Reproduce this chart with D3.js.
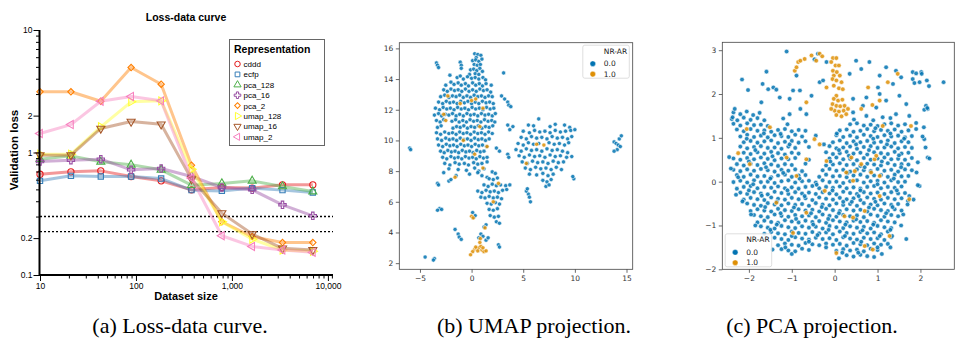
<!DOCTYPE html>
<html>
<head>
<meta charset="utf-8">
<script src="https://cdn.jsdelivr.net/npm/d3@7"></script>
<style>
  body { margin: 0; background: #fff; }
  svg { display: block; }
</style>
</head>
<body>
<svg id="fig" width="956" height="346"></svg>
<script>
// ---------------- data: (a) loss-data curve ----------------
const datasetSizes = [10, 21, 43, 89, 183, 379, 785, 1625, 3364, 6963];
const cddd     = [0.665, 0.695, 0.708, 0.637, 0.587, 0.496, 0.518, 0.512, 0.545, 0.545];
const ecfp     = [0.587, 0.645, 0.637, 0.637, 0.613, 0.493, 0.486, 0.512, 0.493, 0.472];
const pca_128  = [0.882, 0.939, 0.839, 0.793, 0.722, 0.541, 0.559, 0.587, 0.528, 0.480];
const pca_16   = [0.845, 0.866, 0.882, 0.722, 0.740, 0.637, 0.518, 0.496, 0.374, 0.304];
const pca_2    = [3.13, 3.13, 2.62, 4.94, 3.61, 0.788, 0.272, 0.206, 0.184, 0.184];
const umap_128 = [0.969, 0.969, 1.62, 2.59, 2.64, 0.731, 0.272, 0.196, 0.160, 0.156];
const umap_16  = [0.951, 0.951, 1.57, 1.79, 1.70, 0.606, 0.320, 0.216, 0.165, 0.160];
const umap_2   = [1.43, 1.69, 2.62, 2.87, 2.64, 0.62, 0.209, 0.171, 0.160, 0.153];
const refLines = [0.30, 0.226];
const yTickValues = [0.1, 0.2, 0.3, 0.4, 0.5, 0.6, 0.7, 0.8, 0.9, 1, 2, 3, 4, 5, 6, 7, 8, 9, 10];
const yTickLabels = [0.1, 0.2, 1, 2, 10];
const xTickValues = [10, 20, 30, 40, 50, 60, 70, 80, 90, 100, 200, 300, 400, 500, 600, 700, 800, 900,
                     1000, 2000, 3000, 4000, 5000, 6000, 7000, 8000, 9000, 10000, 11000];
const xTickLabels = [10, 100, 1000, 10000];

// ---------------- data: (b) UMAP projection ----------------
const umapBlue = [
  [0.3,15.65],[0.6,15.6],[0.9,15.55],[0.45,15.4],[0.1,15.2],[0.4,15.25],[0.7,15.15],[1.0,15.3],[0.25,14.95],[0.55,14.9],[0.85,14.95],
  [-0.1,14.6],[0.2,14.65],[0.5,14.55],[0.8,14.7],[1.05,14.5],[0.35,14.35],[0.7,14.3],[-0.2,14.3],
  [-3.4,15.05],[-3.3,14.9],[-3.2,14.75],[-1.1,15.1],[-1.0,14.9],[-1.0,14.7],[3.1,14.4],
  [-2.1,14.25],[-1.4,14.1],[-1.1,14.2],[-0.8,14.0],[-0.4,14.15],[0.0,14.05],[0.35,14.1],[0.7,14.0],[1.1,14.1],[1.35,13.95],
  [-2.5,13.6],[-2.0,13.8],[-1.7,13.65],[-1.3,13.75],[-1.0,13.6],[-0.6,13.7],[-0.3,13.55],[0.1,13.75],[0.4,13.6],[0.75,13.7],[1.05,13.55],[1.4,13.7],[1.9,13.6],
  [-2.7,13.3],[-2.35,13.2],[-2.0,13.35],[-1.65,13.25],[-1.3,13.3],[-0.95,13.2],[-0.6,13.35],[-0.25,13.2],[0.1,13.3],[0.45,13.2],[0.8,13.35],[1.15,13.25],[1.5,13.3],[1.85,13.15],
  [-3.0,12.85],[-2.6,12.95],[-2.2,12.8],[-1.85,12.9],[-1.5,12.85],[-1.15,12.95],[-0.8,12.8],[-0.45,12.9],[-0.1,12.8],[0.25,12.95],[0.6,12.85],[0.95,12.9],[1.3,12.8],[1.65,12.9],[2.0,12.85],
  [-3.2,12.5],[-2.8,12.4],[-2.45,12.55],[-2.1,12.45],[-1.75,12.5],[-1.4,12.4],[-1.05,12.55],[-0.7,12.45],[-0.35,12.55],[0.0,12.4],[0.35,12.5],[0.7,12.4],[1.05,12.55],[1.4,12.45],[1.75,12.5],[2.1,12.4],
  [-3.5,12.1],[-3.1,12.0],[-2.75,12.15],[-2.4,12.05],[-2.05,12.1],[-1.7,12.0],[-1.35,12.15],[-1.0,12.05],[-0.65,12.1],[-0.3,12.0],[0.05,12.15],[0.4,12.05],[0.75,12.1],[1.1,12.0],[1.45,12.15],[1.8,12.05],[2.15,12.1],
  [-3.6,11.65],[-3.2,11.75],[-2.9,11.6],[-2.55,11.7],[-2.2,11.65],[-1.85,11.75],[-1.5,11.6],[-1.15,11.7],[-0.8,11.6],[-0.45,11.75],[-0.1,11.65],[0.25,11.7],[0.6,11.6],[0.95,11.75],[1.3,11.65],[1.65,11.7],[2.0,11.6],[2.3,11.75],
  [-3.4,11.3],[-3.05,11.2],[-2.7,11.35],[-1.9,11.25],[-1.55,11.35],[-1.2,11.2],[-0.85,11.3],[-0.5,11.2],[-0.15,11.35],[0.2,11.25],[0.55,11.3],[0.9,11.2],[1.25,11.35],[1.6,11.25],[1.95,11.3],[2.25,11.2],
  [-3.3,10.85],[-2.95,10.95],[-1.8,10.8],[-1.45,10.9],[-1.1,10.85],[-0.75,10.95],[-0.4,10.8],[-0.05,10.9],[0.3,10.85],[0.65,10.95],[1.0,10.8],[1.35,10.9],[1.7,10.85],[2.05,10.95],
  [-3.4,10.5],[-3.0,10.4],[-2.6,10.55],[-2.2,10.45],[-1.85,10.5],[-1.5,10.4],[-1.15,10.55],[-0.8,10.45],[-0.45,10.5],[-0.1,10.4],[0.25,10.55],[0.6,10.45],[0.95,10.5],[1.3,10.4],[1.65,10.55],[2.0,10.45],
  [-3.3,10.1],[-2.9,10.0],[-2.5,10.15],[-2.15,10.05],[-1.8,10.1],[-1.45,10.0],[-1.1,10.15],[-0.75,10.05],[-0.4,10.1],[-0.05,10.0],[0.3,10.15],[0.65,10.05],[1.0,10.1],[1.35,10.0],[1.7,10.1],
  [-3.2,9.7],[-2.8,9.6],[-2.45,9.75],[-2.1,9.65],[-1.75,9.7],[-1.4,9.6],[-1.05,9.75],[-0.7,9.65],[-0.35,9.7],[0.0,9.6],[0.35,9.75],[0.7,9.65],[1.05,9.7],[1.45,9.6],
  [-3.0,9.3],[-2.65,9.2],[-2.3,9.35],[-1.95,9.25],[-1.6,9.3],[-1.25,9.2],[-0.9,9.35],[-0.55,9.25],[-0.2,9.3],[0.15,9.2],[0.5,9.35],[0.85,9.25],[1.2,9.3],
  [-2.8,8.9],[-2.4,8.8],[-2.0,8.95],[-1.65,8.85],[-1.3,8.9],[-0.95,8.8],[-0.6,8.95],[-0.25,8.85],[0.1,8.9],[0.45,8.8],[0.8,8.95],[1.15,8.85],[1.5,8.9],
  [-2.6,8.5],[-2.1,8.4],[-1.6,8.55],[-1.2,8.45],[-0.7,8.5],[-0.3,8.4],[0.2,8.55],[0.6,8.45],[1.0,8.5],[1.5,8.6],
  [-2.2,8.15],[-1.3,8.1],[-0.5,8.05],[0.3,8.2],[0.7,8.0],[1.2,8.15],
  [-2.7,7.9],[-2.2,7.35],[-2.0,7.45],[-1.5,7.7],[-0.2,7.8],[0.6,7.9],[1.0,7.7],[1.5,7.6],
  [2.9,12.9],[3.2,12.7],[3.5,12.5],[3.6,12.3],[3.8,12.2],
  [3.5,11.0],[3.7,10.7],[4.0,10.9],[2.4,9.5],[2.7,9.3],[3.5,9.1],[3.6,8.9],
  [5.5,11.0],[6.0,10.95],[7.6,10.9],[8.1,11.05],[9.0,11.0],[9.5,10.85],[6.5,11.4],
  [5.0,10.6],[5.6,10.5],[6.1,10.65],[6.6,10.55],[7.1,10.6],[7.6,10.5],[8.1,10.65],[8.6,10.55],[9.1,10.6],[9.6,10.65],[10.0,10.7],
  [4.8,10.2],[5.3,10.1],[5.8,10.25],[6.3,10.15],[6.8,10.2],[7.3,10.1],[7.8,10.25],[8.3,10.15],[8.8,10.2],[9.3,10.1],[9.7,10.25],
  [4.5,9.8],[5.0,9.7],[5.5,9.85],[6.0,9.75],[6.5,9.8],[7.5,9.85],[8.0,9.75],[8.5,9.8],[9.0,9.7],[9.4,9.85],
  [4.3,9.4],[4.8,9.3],[5.3,9.45],[5.8,9.35],[6.3,9.4],[6.8,9.3],[7.3,9.45],[7.8,9.35],[8.3,9.4],[8.8,9.3],[9.3,9.2],
  [4.6,9.0],[5.1,8.9],[5.6,9.05],[6.1,8.95],[6.6,9.0],[7.1,8.9],[7.6,9.05],[8.1,8.95],[8.6,9.0],[9.2,8.9],[9.7,8.95],
  [4.9,8.6],[5.4,8.5],[5.9,8.65],[6.4,8.55],[6.9,8.6],[7.4,8.5],[7.9,8.65],[8.4,8.55],[8.9,8.6],
  [5.2,8.2],[5.7,8.1],[6.2,8.25],[6.7,8.15],[7.2,8.2],[7.7,8.1],[8.2,8.25],[8.7,8.1],
  [5.6,7.8],[6.3,7.75],[6.9,7.85],[7.4,7.7],[7.9,7.8],[6.9,7.4],[7.3,7.3],[7.7,7.45],[7.2,7.0],[7.5,7.1],
  [9.9,7.5],[9.8,7.65],[5.5,6.5],[5.6,6.3],[5.7,6.0],[5.3,6.7],[5.4,6.85],
  [13.8,9.9],[14.0,9.8],[14.2,9.7],[14.3,10.1],[14.5,10.3],[14.1,9.4],[13.8,9.3],[14.4,9.6],
  [-6.0,9.5],[-5.9,9.4],[-3.3,7.2],[-3.2,7.1],[-3.1,5.55],[-3.3,5.45],[-2.9,5.5],
  [-1.6,4.2],[-1.3,3.9],[-1.2,3.7],[-1.0,3.55],[-4.5,2.4],[-3.6,2.3],[-3.7,2.2],[2.6,3.2],[2.7,3.05],
  [2.0,7.95],[2.3,7.85],[1.7,7.5],[2.1,7.45],[2.5,7.55],
  [1.2,7.1],[1.6,7.0],[2.0,7.15],[2.4,7.05],[2.8,7.1],[3.3,7.05],[3.7,7.1],
  [0.6,6.7],[1.0,6.6],[1.4,6.75],[1.8,6.65],[2.2,6.7],[2.6,6.6],[3.0,6.75],[3.4,6.8],
  [0.9,6.3],[1.3,6.25],[1.7,6.35],[2.1,6.25],[2.5,6.3],[2.9,6.2],
  [1.5,5.9],[1.9,5.85],[2.3,5.95],[2.7,5.85],[1.7,5.5],[2.1,5.45],[2.5,5.55],
  [1.8,5.1],[2.2,5.0],[2.6,5.05],[2.4,4.7],[2.7,4.6],[1.4,4.5],[1.2,4.35],
  [0.9,3.9],[1.1,3.75],[1.4,3.5],[1.6,3.65],[0.7,3.65],[0.1,5.3],[0.2,5.0],[0.35,5.1]
];
const umapOrange = [
  [0.3,2.9],[0.5,2.95],[0.7,3.0],[0.9,3.1],[1.0,2.85],[1.2,2.75],[1.4,2.8],[0.8,3.35],[0.85,3.6],[0.1,2.75],
  [-0.1,2.55],[0.6,2.8],[1.1,3.0],[0.4,3.05],[0.0,5.05],[0.15,4.95],
  [-2.3,12.9],[-2.7,11.7],[-2.5,11.3],[-1.1,12.4],[0.0,12.6],[0.4,12.7],[1.1,12.1],[0.8,10.9],[-0.8,10.0],
  [1.5,9.6],[0.3,9.1],[1.1,8.2],[-1.6,7.6],[7.0,9.7],[6.3,9.75],[5.3,8.5],[2.6,7.2],[2.1,6.0],[1.3,4.3]
];
const umapXTicks = [-5, 0, 5, 10, 15];
const umapYTicks = [2, 4, 6, 8, 10, 12, 14, 16];

// ---------------- data: (c) PCA projection ----------------
const pcaBlue = [
  [-2.36,1.58],[-2.2,1.54],[-2.05,1.6],[-1.9,1.52],[-1.75,1.57],
  [-2.4,1.43],[-2.27,1.4],[-2.12,1.46],[-1.96,1.41],[-1.8,1.45],[-1.64,1.4],[-1.2,1.44],[0.45,1.42],[0.9,1.4],[1.3,1.45],
  [-2.36,1.32],[-2.2,1.28],[-2.04,1.33],[-1.88,1.29],[-1.72,1.3],[-1.56,1.27],[-1.1,1.31],[0.36,1.31],[0.52,1.33],[0.68,1.28],[0.84,1.3],[1.0,1.27],[1.16,1.31],[1.32,1.33],[1.48,1.28],[1.64,1.31],
  [-2.28,1.19],[-2.12,1.15],[-1.96,1.2],[-1.8,1.16],[-1.64,1.17],[-1.48,1.14],[-1.32,1.18],[-1.16,1.2],[-1.0,1.15],[-0.84,1.18],[-0.68,1.16],[0.12,1.17],[0.28,1.19],[0.44,1.14],[0.6,1.16],[0.76,1.2],[0.92,1.15],[1.08,1.18],[1.24,1.16],[1.4,1.19],[1.56,1.14],[1.72,1.17],
  [-2.2,1.03],[-2.04,1.07],[-1.88,1.02],[-1.72,1.05],[-1.56,1.01],[-1.4,1.06],[-1.24,1.04],[-1.08,1.02],[-0.92,1.07],[-0.76,1.03],[-0.44,1.05],[0.04,1.06],[0.2,1.02],[0.36,1.05],[0.52,1.01],[0.68,1.07],[0.84,1.04],[1.0,1.02],[1.16,1.06],[1.32,1.03],[1.48,1.05],[1.64,1.01],[1.8,1.04],
  [-2.12,0.9],[-1.96,0.93],[-1.8,0.89],[-1.64,0.92],[-1.48,0.94],[-1.32,0.88],[-1.16,0.91],[-1.0,0.93],[-0.84,0.89],[-0.68,0.92],[-0.04,0.9],[0.12,0.94],[0.28,0.88],[0.44,0.92],[0.6,0.9],[0.76,0.93],[0.92,0.89],[1.08,0.91],[1.24,0.94],[1.4,0.88],[1.56,0.92],[1.72,0.9],
  [-2.2,0.8],[-2.04,0.76],[-1.88,0.79],[-1.72,0.81],[-1.56,0.77],[-1.4,0.78],[-1.24,0.75],[-1.08,0.8],[-0.92,0.77],[-0.6,0.79],[-0.12,0.81],[0.04,0.76],[0.2,0.78],[0.36,0.8],[0.52,0.75],[0.68,0.79],[0.84,0.81],[1.0,0.77],[1.16,0.78],[1.32,0.8],[1.48,0.76],[1.64,0.79],[1.8,0.77],
  [-2.12,0.66],[-1.96,0.63],[-1.8,0.67],[-1.64,0.64],[-1.48,0.68],[-1.32,0.65],[-1.16,0.62],[-1.0,0.66],[-0.84,0.64],[-0.2,0.67],[-0.04,0.63],[0.12,0.65],[0.28,0.68],[0.44,0.64],[0.6,0.66],[0.76,0.62],[0.92,0.67],[1.08,0.65],[1.24,0.63],[1.4,0.68],[1.56,0.64],[1.72,0.66],
  [-2.36,0.53],[-2.2,0.5],[-2.04,0.54],[-1.88,0.51],[-1.72,0.55],[-1.56,0.52],[-1.4,0.49],[-1.24,0.53],[-1.08,0.51],[-0.92,0.54],[-0.6,0.5],[-0.12,0.53],[0.04,0.55],[0.2,0.51],[0.36,0.52],[0.52,0.49],[0.68,0.54],[0.84,0.5],[1.0,0.53],[1.16,0.55],[1.32,0.51],[1.48,0.52],[1.64,0.5],[1.8,0.54],
  [-2.28,0.4],[-2.12,0.37],[-1.96,0.41],[-1.8,0.38],[-1.64,0.42],[-1.48,0.39],[-1.32,0.36],[-1.16,0.4],[-1.0,0.38],[-0.68,0.41],[-0.2,0.37],[-0.04,0.39],[0.12,0.42],[0.28,0.38],[0.44,0.4],[0.6,0.36],[0.76,0.41],[0.92,0.39],[1.08,0.37],[1.24,0.42],[1.4,0.38],[1.56,0.4],[1.72,0.39],
  [-2.36,0.27],[-2.2,0.24],[-2.04,0.28],[-1.88,0.25],[-1.72,0.29],[-1.56,0.26],[-1.4,0.23],[-1.24,0.27],[-1.08,0.25],[-0.92,0.28],[-0.76,0.24],[-0.28,0.26],[-0.12,0.29],[0.04,0.25],[0.2,0.27],[0.36,0.23],[0.52,0.28],[0.68,0.26],[0.84,0.24],[1.0,0.29],[1.16,0.25],[1.32,0.27],[1.48,0.23],[1.64,0.28],[1.8,0.26],
  [-2.28,0.15],[-2.12,0.11],[-1.96,0.16],[-1.8,0.12],[-1.64,0.13],[-1.48,0.1],[-1.32,0.14],[-1.16,0.16],[-1.0,0.11],[-0.84,0.14],[-0.68,0.15],[-0.36,0.11],[-0.2,0.16],[-0.04,0.12],[0.12,0.13],[0.28,0.1],[0.44,0.14],[0.6,0.16],[0.76,0.11],[0.92,0.14],[1.08,0.15],[1.24,0.11],[1.4,0.16],[1.56,0.12],[1.72,0.13],
  [-2.36,-0.01],[-2.2,0.02],[-2.04,-0.02],[-1.88,0.03],[-1.72,-0.01],[-1.56,0.0],[-1.4,-0.03],[-1.24,0.01],[-1.08,0.03],[-0.92,-0.02],[-0.76,0.01],[-0.6,0.02],[-0.44,-0.02],[-0.28,0.03],[-0.12,-0.01],[0.04,0.0],[0.2,-0.03],[0.36,0.01],[0.52,0.03],[0.68,-0.02],[0.84,0.01],[1.0,0.02],[1.16,-0.02],[1.32,0.03],[1.48,-0.01],[1.64,0.0],
  [-2.28,-0.16],[-2.12,-0.12],[-1.96,-0.1],[-1.8,-0.15],[-1.64,-0.12],[-1.48,-0.14],[-1.32,-0.11],[-1.16,-0.15],[-1.0,-0.13],[-0.84,-0.16],[-0.68,-0.12],[-0.52,-0.1],[-0.36,-0.15],[-0.2,-0.12],[-0.04,-0.14],[0.12,-0.11],[0.28,-0.15],[0.44,-0.13],[0.6,-0.16],[0.76,-0.12],[0.92,-0.1],[1.08,-0.15],[1.24,-0.12],[1.4,-0.14],[1.56,-0.11],
  [-2.2,-0.25],[-2.04,-0.28],[-1.88,-0.24],[-1.72,-0.27],[-1.56,-0.29],[-1.4,-0.23],[-1.24,-0.26],[-1.08,-0.28],[-0.92,-0.24],[-0.76,-0.27],[-0.6,-0.25],[-0.44,-0.28],[-0.28,-0.24],[-0.12,-0.27],[0.04,-0.29],[0.2,-0.23],[0.36,-0.26],[0.52,-0.28],[0.68,-0.24],[0.84,-0.27],[1.0,-0.25],[1.16,-0.28],[1.32,-0.24],[1.48,-0.27],[1.64,-0.26],
  [-2.12,-0.41],[-1.96,-0.37],[-1.8,-0.4],[-1.64,-0.42],[-1.48,-0.36],[-1.32,-0.39],[-1.16,-0.41],[-1.0,-0.37],[-0.84,-0.4],[-0.68,-0.38],[-0.52,-0.42],[-0.36,-0.36],[-0.2,-0.39],[-0.04,-0.41],[0.12,-0.37],[0.28,-0.4],[0.44,-0.38],[0.6,-0.42],[0.76,-0.36],[0.92,-0.39],[1.08,-0.41],[1.24,-0.37],[1.4,-0.4],[1.56,-0.38],
  [-2.04,-0.5],[-1.88,-0.53],[-1.72,-0.55],[-1.56,-0.49],[-1.4,-0.52],[-1.24,-0.54],[-1.08,-0.5],[-0.92,-0.53],[-0.76,-0.51],[-0.6,-0.55],[-0.44,-0.49],[-0.28,-0.52],[-0.12,-0.54],[0.04,-0.5],[0.2,-0.53],[0.36,-0.51],[0.52,-0.55],[0.68,-0.49],[0.84,-0.52],[1.0,-0.54],[1.16,-0.5],[1.32,-0.53],[1.48,-0.51],
  [-1.96,-0.67],[-1.8,-0.63],[-1.64,-0.66],[-1.48,-0.68],[-1.32,-0.62],[-1.16,-0.65],[-1.0,-0.67],[-0.84,-0.63],[-0.68,-0.66],[-0.52,-0.64],[-0.36,-0.68],[-0.2,-0.62],[-0.04,-0.65],[0.12,-0.67],[0.28,-0.63],[0.44,-0.66],[0.6,-0.64],[0.76,-0.68],[0.92,-0.62],[1.08,-0.65],[1.24,-0.67],[1.4,-0.63],[1.56,-0.66],
  [-1.88,-0.76],[-1.72,-0.79],[-1.56,-0.81],[-1.4,-0.75],[-1.24,-0.78],[-1.08,-0.8],[-0.92,-0.76],[-0.76,-0.79],[-0.6,-0.77],[-0.44,-0.81],[-0.28,-0.75],[-0.12,-0.78],[0.04,-0.8],[0.2,-0.76],[0.36,-0.79],[0.52,-0.77],[0.68,-0.81],[0.84,-0.75],[1.0,-0.78],[1.16,-0.8],[1.32,-0.76],[1.48,-0.79],
  [-1.8,-0.93],[-1.64,-0.89],[-1.48,-0.92],[-1.32,-0.94],[-1.16,-0.88],[-1.0,-0.91],[-0.84,-0.93],[-0.68,-0.89],[-0.52,-0.92],[-0.36,-0.9],[-0.2,-0.94],[-0.04,-0.88],[0.12,-0.91],[0.28,-0.93],[0.44,-0.89],[0.6,-0.92],[0.76,-0.9],[0.92,-0.94],[1.08,-0.88],[1.24,-0.91],[1.4,-0.93],
  [-1.72,-1.02],[-1.56,-1.05],[-1.4,-1.07],[-1.24,-1.01],[-1.08,-1.04],[-0.92,-1.06],[-0.76,-1.02],[-0.6,-1.05],[-0.44,-1.03],[-0.28,-1.07],[-0.12,-1.01],[0.04,-1.04],[0.2,-1.06],[0.36,-1.02],[0.52,-1.05],[0.68,-1.03],[0.84,-1.07],[1.0,-1.01],[1.16,-1.04],[1.32,-1.06],
  [-1.64,-1.19],[-1.48,-1.15],[-1.32,-1.18],[-1.16,-1.2],[-1.0,-1.14],[-0.84,-1.17],[-0.68,-1.19],[-0.52,-1.15],[-0.36,-1.18],[-0.2,-1.16],[-0.04,-1.2],[0.12,-1.14],[0.28,-1.17],[0.44,-1.19],[0.6,-1.15],[0.76,-1.18],[0.92,-1.16],[1.08,-1.2],[1.24,-1.14],
  [-1.4,-1.28],[-1.24,-1.31],[-1.08,-1.33],[-0.92,-1.27],[-0.76,-1.3],[-0.6,-1.32],[-0.44,-1.28],[-0.28,-1.31],[-0.12,-1.29],[0.04,-1.33],[0.2,-1.27],[0.36,-1.3],[0.52,-1.32],[0.68,-1.28],[0.84,-1.31],[1.0,-1.29],[1.16,-1.33],[1.32,-1.27],
  [-1.32,-1.45],[-1.16,-1.41],[-1.0,-1.44],[-0.84,-1.46],[-0.68,-1.4],[-0.52,-1.43],[-0.36,-1.45],[-0.2,-1.41],[-0.04,-1.44],[0.12,-1.42],[0.28,-1.46],[0.44,-1.4],[0.6,-1.43],[0.76,-1.45],[0.92,-1.41],[1.08,-1.44],[1.24,-1.42],
  [-1.24,-1.54],[-1.08,-1.57],[-0.92,-1.59],[-0.76,-1.53],[-0.6,-1.56],[0.04,-1.58],[0.2,-1.54],[0.36,-1.57],[0.52,-1.55],[0.68,-1.59],[0.84,-1.53],[1.0,-1.56],
  [0.28,-1.68],[0.44,-1.71],[0.6,-1.67],[0.76,-1.7],[0.92,-1.72],
  [-1.12,2.97],[-0.39,2.92],[-0.19,2.73],[-0.47,2.79],[0.5,2.76],[0.81,2.73],[1.2,2.61],[1.43,2.53],[1.05,2.42],[1.82,2.5],[2.02,2.5],[2.54,2.27],
  [-1.59,2.51],[-2.16,2.33],[-2.02,2.09],[-1.68,2.23],[-1.55,2.11],[-1.43,2.15],[-1.36,2.1],[-1.71,1.81],[-1.28,1.92],[-1.05,1.89],[-0.97,2.08],
  [-0.81,2.08],[-0.54,1.96],[-0.35,2.27],[-0.27,2.31],[0.35,2.46],[0.62,2.57],[1.01,2.15],[1.36,2.23],[1.55,2.38],[1.82,2.34],[1.98,2.27],[2.15,2.31],
  [2.13,1.73],[2.17,1.66],[1.9,1.2],[2.09,0.97],[2.12,0.78],[2.17,0.55],[2.21,0.53],[1.94,0.44],[1.91,0.21],[1.98,-0.1],[1.74,-0.33],[1.71,-0.44],
  [1.67,-1.31],[1.34,-1.24],[-2.33,1.66],[-2.38,1.47],[-2.46,0.56],[-0.8,1.66],[-0.66,1.54],[-1.05,1.54],[0.43,1.89],[0.74,1.92],[1.05,2.0],
  [0.43,1.58],[0.66,1.73],[0.97,1.69],[1.2,1.85],[1.51,1.96],[1.67,1.77],[1.43,1.54],[1.74,1.5],[0.74,1.5],[1.12,1.47],[-0.89,2.42],
  [1.84,-0.41],[1.7,-0.52],[2.03,2.46],[1.9,2.47],[2.2,2.18],[1.86,2.25],[2.09,1.64],[2.16,1.68],[1.9,1.34],[2.08,1.24],[2.05,1.03],[1.94,-0.08],
  [-2.42,0.3],[-2.3,-0.3],[-2.15,-0.45],[-1.95,-0.75],[-1.85,-1.0],[-1.6,-1.3],[-1.45,-1.55],[-1.0,-1.65],[0.1,-1.75],[1.1,-1.65],[1.3,-1.5],[1.55,-1.0],[1.6,-0.75],
  [-1.9,-0.06],[-1.5,0.07],[-1.1,-0.2],[-0.7,-0.33],[-0.3,-0.58],[0.1,-0.72],[0.5,-0.86],[0.9,-0.98],[1.3,-1.1],[-1.62,-0.58],
  [-1.26,-0.72],[-0.9,-0.85],[-0.5,-0.98],[-0.14,-1.1],[0.24,-1.24],[0.62,-1.37],[1.0,-1.5],[-1.35,-0.98],[-1.0,-1.24],[-0.6,-1.37],
  [-0.2,-1.5],[0.18,-1.62],[0.6,-0.2],[1.0,-0.06],[1.38,0.07],[0.3,0.2],[0.7,0.33],[1.1,0.46],[1.5,0.6],[0.1,0.72],
  [0.5,0.85],[0.9,0.98],[1.3,1.1],[-0.1,0.46],[0.33,0.59],[0.8,0.72],[1.22,0.85],[1.62,0.98],[0.2,-0.46],[0.56,-0.33],
  [0.95,-0.46],[1.35,-0.58],[-0.05,-0.2],[-0.42,-0.07],[-0.82,0.07],[-1.2,0.2],[-1.6,0.33],[-2.0,0.46],[-1.85,0.72],[-1.45,0.58],
  [-1.05,0.85],[-1.65,1.1],[-2.05,0.98],[-1.26,1.09],[-2.25,0.1],[-2.0,-0.2],[-1.7,-0.32],[-1.35,-0.46],[-0.95,-0.59],[-0.55,-0.72],
  [-0.15,-0.85],[0.25,-0.98],[0.65,-1.11],[1.05,-1.24],[1.2,-0.72],[0.8,-0.59],[0.4,-0.46],[1.45,-0.2],[1.55,0.33],[-0.25,0.85],
  [0.05,1.1],[0.95,1.22],[-1.5,-1.1],[-1.15,-1.5],[-0.4,-1.22],[0.55,-1.62]
];
const pcaOrange = [
  [-0.04,2.82],[0.04,2.82],[-0.08,2.73],[0.02,2.65],[0.1,2.65],[-0.04,2.53],[0.05,2.5],[-0.02,2.42],[0.12,2.42],[-0.05,2.34],
  [0.04,2.31],[0.16,2.27],[-0.02,2.19],[0.1,2.13],[0.19,2.11],[0.04,1.96],[-0.02,1.89],[0.08,1.85],[0.18,1.87],[-0.05,1.77],
  [0.04,1.73],[0.13,1.72],[0.23,1.73],[0.0,1.62],[0.1,1.6],[0.21,1.62],[0.04,1.52],[0.16,1.49],[0.27,1.54],[-0.08,1.66],[0.31,1.66],
  [-0.85,2.73],[-0.8,2.76],[-0.7,2.8],[-0.54,2.88],[-0.35,2.92],[-0.29,2.86],[-0.93,2.53],[-0.89,2.61],[-0.43,2.76],
  [0.78,2.15],[1.05,1.85],[1.24,2.27],[1.47,2.46],[-0.66,1.81],[-0.19,2.15],[0.62,1.66],[0.88,1.75],[-0.47,0.97],[-0.35,0.85],
  [-0.66,0.51],[-0.19,0.47],[0.39,0.55],[0.62,0.4],[0.93,0.51],[0.97,0.59],[1.12,1.27],[1.78,1.27],[0.27,0.21],[0.47,0.24],
  [-2.25,0.65],[-1.98,0.4],[-2.05,1.2],[-1.51,1.24],[-1.12,0.55],[-0.89,0.13],[-1.36,-0.48],[-0.66,-0.71],[-0.97,-1.17],[0.23,-0.79],
  [0.43,-0.82],[0.7,-0.67],[1.05,-0.33],[1.28,-1.24],[1.74,-0.4],[0.04,-1.63],[0.7,-1.47],[0.89,-1.55],[-0.23,-0.21],[0.43,0.02],[0.85,0.21],[1.05,0.13]
];
const pcaXTicks = [-2, -1, 0, 1, 2];
const pcaYTicks = [-2, -1, 0, 1, 2, 3];
const hueLabels = ["0.0", "1.0"];
const captions = ["(a) Loss-data curve.", "(b) UMAP projection.", "(c) PCA projection."];

// ---------------- drawing ----------------
const svg = d3.select("#fig");
const sans = "'Liberation Sans', Arial, Helvetica, sans-serif";
const dejavu = "'DejaVu Sans', sans-serif";

const series = [
  {name: "cddd", values: cddd, color: "#e41a1c"},
  {name: "ecfp", values: ecfp, color: "#377eb8"},
  {name: "pca_128", values: pca_128, color: "#4daf4a"},
  {name: "pca_16", values: pca_16, color: "#984ea3"},
  {name: "pca_2", values: pca_2, color: "#ff7f00"},
  {name: "umap_128", values: umap_128, color: "#ffff33"},
  {name: "umap_16", values: umap_16, color: "#a65628"},
  {name: "umap_2", values: umap_2, color: "#f781bf"}
];
const markers = {
  cddd: {type: d3.symbolCircle, rot: 0, size: 30},
  ecfp: {type: d3.symbolSquare, rot: 0, size: 28},
  pca_128: {type: d3.symbolTriangle, rot: 0, size: 28},
  pca_16: {type: d3.symbolCross, rot: 0, size: 30},
  pca_2: {type: d3.symbolSquare, rot: 45, size: 20},
  umap_128: {type: d3.symbolTriangle, rot: 90, size: 28},
  umap_16: {type: d3.symbolTriangle, rot: 180, size: 28},
  umap_2: {type: d3.symbolTriangle, rot: 270, size: 28}
};

// ----- panel (a) -----
const xA = d3.scaleLog().domain([10, 11300]).range([40, 333]);
const yA = d3.scaleLog().domain([0.1, 10]).range([275, 30]);
const gA = svg.append("g");

gA.selectAll("line.ref").data(refLines).enter().append("line")
  .attr("class", "ref")
  .attr("x1", 40).attr("x2", 333)
  .attr("y1", d => yA(d)).attr("y2", d => yA(d))
  .attr("stroke", "#000").attr("stroke-width", 1.4).attr("stroke-dasharray", "2,2");

const line = d3.line().x((d, i) => xA(datasetSizes[i])).y(d => yA(d));

const sg = gA.selectAll("g.series").data(series).enter().append("g").attr("class", "series");
sg.append("path")
  .attr("d", d => line(d.values))
  .attr("fill", "none")
  .attr("stroke", d => d.color)
  .attr("stroke-opacity", 0.45)
  .attr("stroke-width", 3)
  .attr("stroke-linejoin", "round");
sg.each(function(s) {
  const m = markers[s.name];
  d3.select(this).selectAll("path.mk").data(s.values).enter().append("path")
    .attr("class", "mk")
    .attr("d", d3.symbol().type(m.type).size(m.size))
    .attr("transform", (d, i) => `translate(${xA(datasetSizes[i])},${yA(d)}) rotate(${m.rot})`)
    .attr("fill", "none")
    .attr("stroke", s.color)
    .attr("stroke-width", 1.1);
});

const yAxisA = gA.append("g").attr("transform", "translate(39.5,0)")
  .call(d3.axisLeft(yA).tickValues(yTickValues).tickSize(3.5).tickPadding(3)
    .tickFormat(d => yTickLabels.includes(d) ? d3.format("~g")(d) : ""));
yAxisA.selectAll(".tick line").attr("x2", d => yTickLabels.includes(d) ? -6 : -3.5);
yAxisA.selectAll(".tick text").attr("x", -7);
yAxisA.select(".domain").attr("stroke-width", 2).attr("d", "M0,275V30");

const xAxisA = gA.append("g").attr("transform", "translate(0,275)")
  .call(d3.axisBottom(xA).tickValues(xTickValues).tickSize(3.5).tickPadding(4)
    .tickFormat(d => xTickLabels.includes(d) ? d3.format(",")(d) : ""));
xAxisA.selectAll(".tick line").attr("y2", d => xTickLabels.includes(d) ? 6 : 3.5);
xAxisA.selectAll(".tick text").attr("y", 7.5);
xAxisA.select(".domain").attr("stroke-width", 2).attr("d", "M39,0H333");
[yAxisA, xAxisA].forEach(a => a.selectAll("text").attr("font-family", sans).attr("font-size", 8.5).attr("fill", "#000"));

gA.append("text").attr("x", 186).attr("y", 21).attr("text-anchor", "middle")
  .attr("font-family", sans).attr("font-weight", "bold").attr("font-size", 10.5).text("Loss-data curve");
gA.append("text").attr("transform", "translate(18,150) rotate(-90)").attr("text-anchor", "middle")
  .attr("font-family", sans).attr("font-weight", "bold").attr("font-size", 11.5).text("Validation loss");
gA.append("text").attr("x", 186).attr("y", 300).attr("text-anchor", "middle")
  .attr("font-family", sans).attr("font-weight", "bold").attr("font-size", 11).text("Dataset size");

// legend (a)
const legA = gA.append("g");
legA.append("rect").attr("x", 229.5).attr("y", 39.5).attr("width", 95).attr("height", 106)
  .attr("fill", "#fff").attr("stroke", "#666").attr("stroke-width", 1);
legA.append("text").attr("x", 234).attr("y", 53).attr("font-family", sans).attr("font-weight", "bold")
  .attr("font-size", 10.5).text("Representation");
const legItems = legA.selectAll("g.item").data(series).enter().append("g")
  .attr("transform", (d, i) => `translate(237.5,${64 + i * 10.4})`);
legItems.append("path")
  .attr("d", d => d3.symbol().type(markers[d.name].type).size(markers[d.name].size * 0.8)())
  .attr("transform", d => `rotate(${markers[d.name].rot})`)
  .attr("fill", "none").attr("stroke", d => d.color).attr("stroke-width", 1);
legItems.append("text").attr("x", 6).attr("y", 3).attr("font-family", sans).attr("font-size", 8)
  .text(d => d.name);

// ----- scatter panels (b), (c) -----
const hueColors = ["#0173b2", "#de8f05"];
function scatterPanel(x, y, xTicks, yTicks, blue, orange, legendPos, r) {
  const g = svg.append("g");
  const [x0, x1] = x.range(), [y0, y1] = y.range();
  g.append("g").selectAll("circle").data(blue).enter().append("circle")
    .attr("cx", d => x(d[0])).attr("cy", d => y(d[1])).attr("r", r)
    .attr("fill", hueColors[0]).attr("fill-opacity", 0.85).attr("stroke", "#fff").attr("stroke-width", 0.55);
  g.append("g").selectAll("circle").data(orange).enter().append("circle")
    .attr("cx", d => x(d[0])).attr("cy", d => y(d[1])).attr("r", r)
    .attr("fill", hueColors[1]).attr("fill-opacity", 0.85).attr("stroke", "#fff").attr("stroke-width", 0.55);
  g.append("rect").attr("x", x0).attr("y", y1).attr("width", x1 - x0).attr("height", y0 - y1)
    .attr("fill", "none").attr("stroke", "#444").attr("stroke-width", 0.8);
  const ax = g.append("g").attr("transform", `translate(0,${y0})`)
    .call(d3.axisBottom(x).tickValues(xTicks).tickSize(3.5).tickPadding(2.5).tickFormat(d3.format("d")));
  const ay = g.append("g").attr("transform", `translate(${x0},0)`)
    .call(d3.axisLeft(y).tickValues(yTicks).tickSize(3.5).tickPadding(2.5).tickFormat(d3.format("d")));
  [ax, ay].forEach(a => {
    a.select(".domain").remove();
    a.selectAll(".tick line").attr("stroke", "#444").attr("stroke-width", 0.8);
    a.selectAll("text").attr("font-family", dejavu).attr("font-size", 7.5).attr("fill", "#333");
  });
  // legend
  const [lx, ly] = legendPos;
  const lg = g.append("g").attr("transform", `translate(${lx},${ly})`);
  lg.append("rect").attr("width", 46.5).attr("height", 33).attr("rx", 2)
    .attr("fill", "#fff").attr("fill-opacity", 0.85).attr("stroke", "#d6d6d6").attr("stroke-width", 0.8);
  lg.append("text").attr("x", 21).attr("y", 8.5).attr("font-family", dejavu).attr("font-size", 7.5)
    .attr("fill", "#222").text("NR-AR");
  hueLabels.forEach((h, i) => {
    lg.append("circle").attr("cx", 10).attr("cy", 18.5 + i * 10.4).attr("r", 2.8)
      .attr("fill", hueColors[i]).attr("stroke", "#fff").attr("stroke-width", 0.4);
    lg.append("text").attr("x", 21).attr("y", 21.3 + i * 10.4).attr("font-family", dejavu)
      .attr("font-size", 7.5).attr("fill", "#222").text(h);
  });
}

const xB = d3.scaleLinear().domain([-7.0, 15.6]).range([399.3, 632.7]);
const yB = d3.scaleLinear().domain([1.6, 16.37]).range([269.3, 42.7]);
scatterPanel(xB, yB, umapXTicks, umapYTicks, umapBlue, umapOrange, [582.8, 45.2], 2.1);

const xC = d3.scaleLinear().domain([-2.62, 2.79]).range([722.3, 954.3]);
const yC = d3.scaleLinear().domain([-2.0, 3.18]).range([269.3, 42.3]);
scatterPanel(xC, yC, pcaXTicks, pcaYTicks, pcaBlue, pcaOrange, [725.2, 233.8], 2.3);

// captions
const capX = [180, 534, 812];
svg.selectAll("text.cap").data(captions).enter().append("text")
  .attr("class", "cap")
  .attr("x", (d, i) => capX[i]).attr("y", 333).attr("text-anchor", "middle")
  .attr("font-family", "'Liberation Serif', 'Times New Roman', serif").attr("font-size", 22)
  .text(d => d);
</script>
</body>
</html>
